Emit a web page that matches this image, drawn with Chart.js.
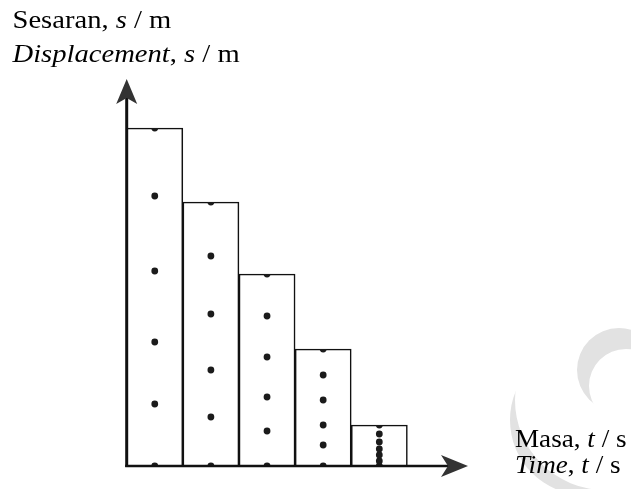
<!DOCTYPE html>
<html>
<head>
<meta charset="utf-8">
<script src="https://cdn.jsdelivr.net/npm/chart.js@4.4.1/dist/chart.umd.min.js"></script>
<style>
  html, body { margin: 0; padding: 0; background: #fff; }
  #wrap { position: relative; width: 631px; height: 489px; }
</style>
</head>
<body>
<div id="wrap"><canvas id="tape"></canvas></div>
<script>
/* ── Data: ticker-tape strips ── */
const stripX      = [0.5, 1.5, 2.5, 3.5, 4.5];          // centre of each strip on the time axis
const stripLength = [33.8, 26.4, 19.2, 11.7, 4.1];      // strip length (arbitrary units)

// dot positions measured up each strip
const dots1 = [0, 6.2, 12.4, 19.5, 27.0, 33.8];
const dots2 = [0, 4.9, 9.6, 15.2, 21.0, 26.4];
const dots3 = [0, 3.5, 6.9, 10.9, 15.0, 19.2];
const dots4 = [0, 2.1, 4.1, 6.6, 9.1, 11.7];
const dots5 = [0, 0.5, 1.1, 1.7, 2.4, 3.2, 4.1];

const yTitle  = [['Sesaran, ', false], ['s', true], [' / m', false]];
const yTitle2 = [['Displacement', true], [', ', false], ['s', true], [' / m', false]];
const xTitle  = [['Masa, ', false], ['t', true], [' / s', false]];
const xTitle2 = [['Time', true], [', ', false], ['t', true], [' / s', false]];

const allDots = [dots1, dots2, dots3, dots4, dots5];
const dotPoints = [];
allDots.forEach((d, i) => d.forEach(v => dotPoints.push({ x: stripX[i], y: v })));

const FONT = "'Liberation Serif', 'Times New Roman', serif";

/* ── Background watermark (grey crescents) ── */
function crescent(ctx, w, h, outer, inner) {
  ctx.save();
  ctx.beginPath();
  ctx.arc(outer[0], outer[1], outer[2], 0, Math.PI * 2);
  ctx.clip();
  ctx.beginPath();
  ctx.rect(0, 0, w, h);
  ctx.arc(inner[0], inner[1], inner[2], 0, Math.PI * 2);
  ctx.fill('evenodd');
  ctx.restore();
}

const watermark = {
  id: 'watermark',
  beforeDraw(chart) {
    const ctx = chart.ctx;
    ctx.save();
    ctx.fillStyle = '#e2e2e2';
    crescent(ctx, chart.width, chart.height, [619, 370, 42], [626, 386, 37]);
    crescent(ctx, chart.width, chart.height, [585, 420, 75], [605, 400, 90]);
    ctx.restore();
  }
};

/* ── Dots only show inside their strip ── */
const stripClip = {
  id: 'stripClip',
  beforeDatasetDraw(chart, args) {
    if (args.index !== 1) return;
    const bars = chart.getDatasetMeta(0).data;
    const ctx = chart.ctx;
    ctx.save();
    ctx.beginPath();
    bars.forEach(b => ctx.rect(b.x - b.width / 2, b.y, b.width, b.base - b.y));
    ctx.clip();
  },
  afterDatasetDraw(chart, args) {
    if (args.index === 1) chart.ctx.restore();
  }
};

function drawRich(ctx, parts, x, y, size, sx) {
  ctx.save();
  ctx.translate(x, y);
  ctx.scale(sx, 1);
  let cx = 0;
  parts.forEach(([t, it]) => {
    ctx.font = (it ? 'italic ' : '') + size + 'px ' + FONT;
    ctx.fillText(t, cx, 0);
    cx += ctx.measureText(t).width;
  });
  ctx.restore();
}

/* ── Axes with arrows + labels ── */
const axesArrows = {
  id: 'axesArrows',
  afterDatasetsDraw(chart) {
    const { ctx, chartArea: a } = chart;
    ctx.save();
    ctx.strokeStyle = '#111';
    ctx.fillStyle = '#333';
    // y axis
    ctx.lineWidth = 3;
    ctx.beginPath();
    ctx.moveTo(a.left, a.bottom + 1);
    ctx.lineTo(a.left, a.top + 18);
    ctx.stroke();
    ctx.beginPath();
    ctx.moveTo(a.left, a.top);
    ctx.lineTo(a.left + 10.5, a.top + 25);
    ctx.lineTo(a.left, a.top + 19);
    ctx.lineTo(a.left - 10.5, a.top + 25);
    ctx.closePath();
    ctx.fill();
    // x axis
    ctx.lineWidth = 2.5;
    ctx.beginPath();
    ctx.moveTo(a.left - 1.5, a.bottom);
    ctx.lineTo(a.right - 18, a.bottom);
    ctx.stroke();
    ctx.beginPath();
    ctx.moveTo(a.right, a.bottom);
    ctx.lineTo(a.right - 27, a.bottom - 11);
    ctx.lineTo(a.right - 20, a.bottom);
    ctx.lineTo(a.right - 27, a.bottom + 11);
    ctx.closePath();
    ctx.fill();

    ctx.fillStyle = '#000';
    ctx.textBaseline = 'alphabetic';
    drawRich(ctx, yTitle, 12.5, 27.5, 26, 1.1);
    drawRich(ctx, yTitle2, 12.5, 61.5, 26, 1.1);
    drawRich(ctx, xTitle, 515, 447, 25, 1.085);
    drawRich(ctx, xTitle2, 515, 472.5, 25, 1.085);
    ctx.restore();
  }
};

new Chart(document.getElementById('tape'), {
  type: 'bar',
  data: {
    datasets: [{
      type: 'bar',
      data: stripX.map((x, i) => ({ x, y: stripLength[i] })),
      backgroundColor: '#fff',
      borderColor: '#111',
      borderWidth: 1.6,
      barPercentage: 1,
      categoryPercentage: 1,
      order: 2
    }, {
      type: 'scatter',
      data: dotPoints,
      pointRadius: 3.4,
      pointBackgroundColor: '#1b1b1b',
      pointBorderWidth: 0,
      order: 1
    }]
  },
  options: {
    responsive: true,
    maintainAspectRatio: false,
    animation: false,
    layout: { padding: { left: 126.7, right: 163, top: 79, bottom: 23 } },
    plugins: { legend: { display: false }, tooltip: { enabled: false } },
    scales: {
      x: { type: 'linear', min: 0, max: 6.08, offset: false, display: false },
      y: { min: 0, max: 38.7, display: false }
    }
  },
  plugins: [watermark, stripClip, axesArrows]
});
</script>
</body>
</html>
